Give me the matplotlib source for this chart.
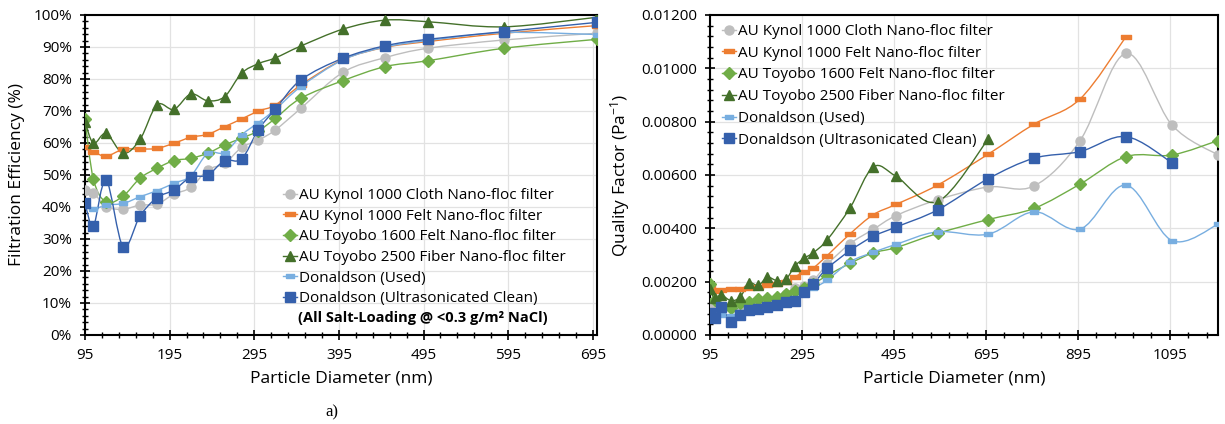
import numpy as np
import matplotlib
matplotlib.use("Agg")
import matplotlib.pyplot as plt
from matplotlib.path import Path
from matplotlib.patches import PathPatch
from matplotlib.lines import Line2D
from matplotlib.ticker import MultipleLocator, FuncFormatter

plt.rcParams['font.family'] = ['Open Sans', 'DejaVu Sans']
plt.rcParams['mathtext.fontset'] = 'custom'
plt.rcParams['mathtext.rm'] = 'Open Sans'
plt.rcParams['mathtext.default'] = 'regular'

# particle diameters (nm)
x_fe = [95, 105, 120, 140, 160, 180, 200, 220, 240, 260, 280, 300, 320, 350, 400, 450, 500, 590, 700]
x_qf = x_fe + [800, 900, 1000, 1100, 1200]

labels = ['AU Kynol 1000 Cloth Nano-floc filter',
          'AU Kynol 1000 Felt Nano-floc filter',
          'AU Toyobo 1600 Felt Nano-floc filter',
          'AU Toyobo 2500 Fiber Nano-floc filter',
          'Donaldson (Used)',
          'Donaldson (Ultrasonicated Clean)']

# filtration efficiency (%)
cloth_fe = [45.3, 44.5, 40.1, 39.3, 40.6, 40.9, 44.0, 46.1, 51.6, 53.6, 58.6, 60.9, 64.1, 70.8, 82.1, 86.7, 89.6, 92.2, 94.3]
felt_fe = [58.9, 57.3, 55.9, 58.0, 58.1, 58.3, 59.9, 61.8, 62.7, 65.1, 67.5, 70.0, 71.9, 78.1, 86.1, 89.9, 91.7, 94.3, 96.7]
toyobo1600_fe = [67.4, 48.6, 41.5, 43.4, 49.0, 52.1, 54.5, 55.2, 56.8, 59.4, 61.5, 63.8, 67.7, 74.0, 79.5, 83.9, 85.7, 89.6, 92.4]
toyobo2500_fe = [66.7, 59.9, 63.0, 56.8, 61.1, 71.9, 70.5, 75.3, 73.2, 74.5, 81.8, 84.8, 86.6, 90.3, 95.6, 98.4, 97.9, 96.3, 99.3]
used_fe = [40.4, 39.3, 40.6, 41.1, 43.2, 45.1, 47.4, 49.7, 56.8, 57.0, 62.5, 66.4, 70.5, 77.6, 86.0, 90.0, 92.0, 94.5, 93.9]
clean_fe = [41.1, 34.2, 48.4, 27.6, 37.2, 42.9, 45.3, 49.3, 50.0, 54.5, 55.0, 64.2, 70.6, 79.7, 86.5, 90.4, 92.4, 94.8, 97.7]

# quality factor (1/Pa)
cloth_qf = [0.00120, 0.00105, 0.00100, 0.00105, 0.00112, 0.00118, 0.00125, 0.00132, 0.00140, 0.00155, 0.00178, 0.00185,
            0.00205, 0.00265, 0.00343, 0.00396, 0.00448, 0.00507, 0.00555, 0.00559, 0.00729, 0.01056, 0.00787, 0.00675]
felt_qf = [0.00179, 0.00166, 0.00170, 0.00171, 0.00174, 0.00177, 0.00180, 0.00187, 0.00190, 0.00198, 0.00219, 0.00236,
           0.00252, 0.00298, 0.00380, 0.00451, 0.00490, 0.00562, 0.00678, 0.00791, 0.00885, 0.01119]
toyobo1600_qf = [0.00191, 0.00131, 0.00097, 0.00102, 0.00119, 0.00125, 0.00134, 0.00140, 0.00144, 0.00154, 0.00166, 0.00175,
                 0.00192, 0.00223, 0.00269, 0.00308, 0.00328, 0.00381, 0.00433, 0.00475, 0.00566, 0.00669, 0.00675, 0.00729]
toyobo2500_qf = [0.00171, 0.00138, 0.00150, 0.00129, 0.00141, 0.00194, 0.00186, 0.00216, 0.00204, 0.00209, 0.00259, 0.00288,
                 0.00309, 0.00357, 0.00478, 0.00630, 0.00595, 0.00500, 0.00734]
used_qf = [0.00085, 0.00068, 0.00075, 0.00072, 0.00085, 0.00095, 0.00100, 0.00105, 0.00115, 0.00120, 0.00130, 0.00155,
           0.00175, 0.00206, 0.00275, 0.00310, 0.00340, 0.00387, 0.00378, 0.00462, 0.00397, 0.00562, 0.00354, 0.00415]
clean_qf = [0.00082, 0.00062, 0.00105, 0.00050, 0.00075, 0.00092, 0.00098, 0.00106, 0.00112, 0.00122, 0.00127, 0.00162,
            0.00193, 0.00250, 0.00317, 0.00370, 0.00405, 0.00469, 0.00586, 0.00663, 0.00688, 0.00744, 0.00646]

colors = ['#BEBEBE', '#ED7D31', '#70AD47', '#44702A', '#78AEE0', '#3560AC']
dash = [(-1, -0.45), (1, -0.45), (1, 0.45), (-1, 0.45), (-1, -0.45)]
markers = ['o', dash, 'D', '^', dash, 's']
msizes = [6.5, 7, 6, 7.5, 5.5, 7.5]


def smooth_path(x, y):
    # excel-like smoothed line (catmull-rom as cubic bezier)
    p = np.column_stack([x, y]).astype(float)
    n = len(p)
    verts = [p[0]]
    codes = [Path.MOVETO]
    for i in range(n - 1):
        p0 = p[i - 1] if i > 0 else p[i]
        p3 = p[i + 2] if i + 2 < n else p[i + 1]
        c1 = p[i] + (p[i + 1] - p0) / 6.0
        c2 = p[i + 1] - (p3 - p[i]) / 6.0
        verts += [c1, c2, p[i + 1]]
        codes += [Path.CURVE4] * 3
    return Path(verts, codes)


def draw_series(ax, xs, series):
    for k, ys in enumerate(series):
        xx = xs[:len(ys)]
        ax.add_patch(PathPatch(smooth_path(xx, ys), facecolor='none', edgecolor=colors[k],
                               lw=1.0, zorder=3 + k * 0.1))
        ax.plot(xx, ys, ls='none', marker=markers[k], ms=msizes[k], color=colors[k],
                mec=colors[k], zorder=4 + k * 0.1)


def style_axes(ax):
    for s in ax.spines.values():
        s.set_color('black')
        s.set_linewidth(1.5)
    ax.grid(True, which='major', color='#E2E2E2', lw=0.9, zorder=0)
    ax.tick_params(which='major', direction='inout', length=7, width=1.2, labelsize=11, pad=6)
    ax.tick_params(which='minor', direction='inout', length=4.5, width=1.0)
    ax.set_axisbelow(True)


def handles():
    return [Line2D([], [], color=colors[k], lw=1.0, marker=markers[k], ms=msizes[k], mec=colors[k])
            for k in range(6)]


fig = plt.figure(figsize=(12.25, 4.24), dpi=100)
W, H = 1225.0, 424.0

# ---- left: filtration efficiency
ax1 = fig.add_axes([85 / W, 89 / H, 512 / W, 320 / H])
draw_series(ax1, x_fe, [cloth_fe, felt_fe, toyobo1600_fe, toyobo2500_fe, used_fe, clean_fe])
ax1.set_xlim(95, 700)
ax1.set_ylim(0, 100)
ax1.set_xticks(np.arange(95, 700, 100))
ax1.xaxis.set_minor_locator(MultipleLocator(20, offset=15))
ax1.yaxis.set_major_locator(MultipleLocator(10))
ax1.yaxis.set_minor_locator(MultipleLocator(2))
ax1.yaxis.set_major_formatter(FuncFormatter(lambda v, p: '%d%%' % round(v)))
style_axes(ax1)
ax1.set_xlabel('Particle Diameter (nm)', fontsize=12.5, labelpad=5)
ax1.set_ylabel('Filtration Efficiency (%)', fontsize=12.5, labelpad=6)
ax1.legend(handles(), labels, loc='upper left', bbox_to_anchor=(283 / W, 1 - 188 / H),
           bbox_transform=fig.transFigure, frameon=False, fontsize=11, handlelength=0.9,
           handletextpad=0.15, labelspacing=0.37, borderpad=0, borderaxespad=0)
fig.text(298 / W, 1 - 318 / H, '(All Salt-Loading @ <0.3 g/m² NaCl)', fontsize=10.5,
         fontweight='bold', va='center', ha='left')

# ---- right: quality factor
ax2 = fig.add_axes([710 / W, 89 / H, 508 / W, 320 / H])
draw_series(ax2, x_qf, [cloth_qf, felt_qf, toyobo1600_qf, toyobo2500_qf, used_qf, clean_qf])
ax2.set_xlim(95, 1200)
ax2.set_ylim(0, 0.012)
ax2.set_xticks(np.arange(95, 1200, 200))
ax2.xaxis.set_minor_locator(MultipleLocator(40, offset=15))
ax2.yaxis.set_major_locator(MultipleLocator(0.002))
ax2.yaxis.set_minor_locator(MultipleLocator(0.0004))
ax2.yaxis.set_major_formatter(FuncFormatter(lambda v, p: '%.5f' % v))
style_axes(ax2)
ax2.set_xlabel('Particle Diameter (nm)', fontsize=12.5, labelpad=-2)
ax2.xaxis.set_label_coords(0.48, -0.11)
ax2.set_ylabel('Quality Factor (Pa$^{-1}$)', fontsize=12.5, labelpad=6)
ax2.legend(handles(), labels, loc='upper left', bbox_to_anchor=(722 / W, 1 - 24 / H),
           bbox_transform=fig.transFigure, frameon=False, fontsize=11, handlelength=0.9,
           handletextpad=0.15, labelspacing=0.44, borderpad=0, borderaxespad=0)

fig.text(332 / W, 1 - 412 / H, 'a)', fontsize=12, family='Liberation Serif', ha='center', va='center')

fig.savefig('out.png', dpi=100)
